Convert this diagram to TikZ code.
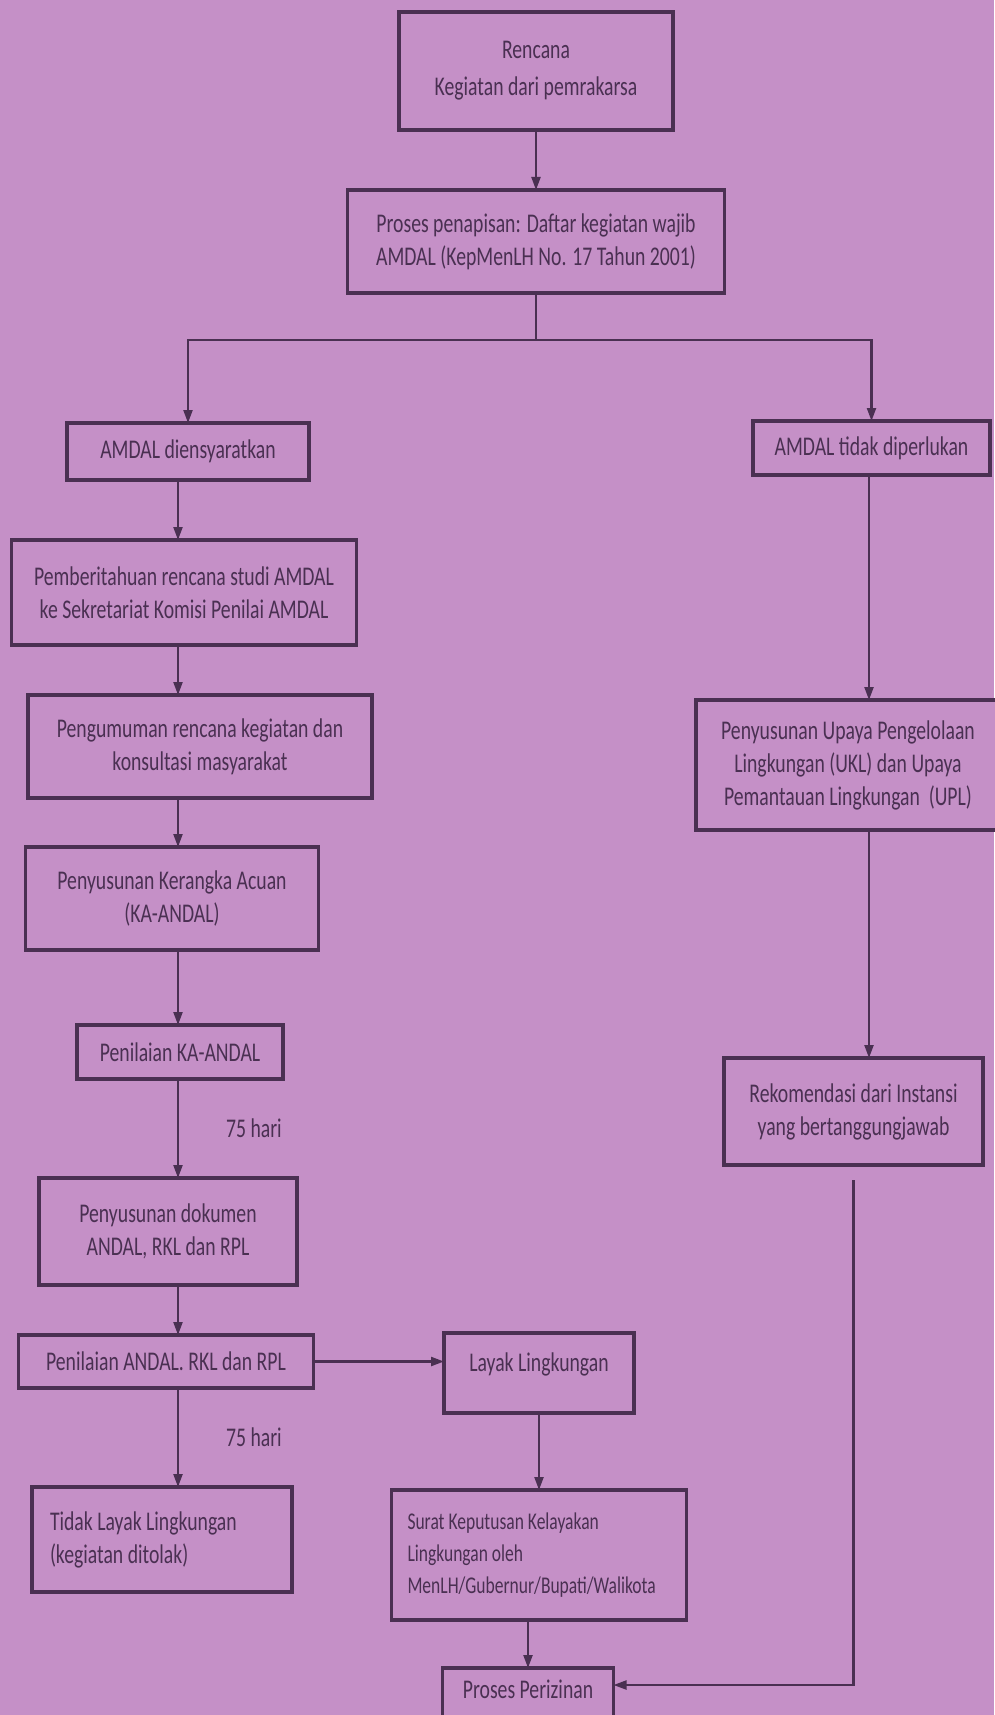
\documentclass[tikz,border=0pt]{standalone}
\usepackage{fontspec}
\setmainfont{Carlito}[FakeStretch=0.73]
\usetikzlibrary{arrows.meta,positioning}
\definecolor{sheet}{RGB}{197,144,199}
\definecolor{ink}{RGB}{74,48,82}
\tikzset{
stage/.style={draw=ink,line width=3.2pt,fill=sheet,text=ink,align=center,inner sep=0pt,outer sep=0pt,font=\fontsize{27}{33}\selectfont},
note/.style={text=ink,inner sep=0pt,font=\fontsize{27}{33}\selectfont},
flow/.style={-{Stealth[length=13pt,width=9pt,inset=0pt]},draw=ink,line width=2.2pt}
}
\begin{document}
\begin{tikzpicture}[x=1pt,y=-1pt]
\useasboundingbox(0,0)rectangle(994,1715);
\fill[sheet](0,0)rectangle(994,1715);
\coordinate(lcol)at(178,0);\coordinate(rcol)at(869,0);
\node[stage,minimum width=274pt,minimum height=118pt](rencana)at(536,71){Rencana\\[4pt]Kegiatan dari pemrakarsa};
\node[stage,minimum width=377pt,minimum height=103pt,below=60pt of rencana](penapisan){Proses penapisan: Daftar kegiatan wajib\\AMDAL (KepMenLH No. 17 Tahun 2001)};
\node[stage,minimum width=242pt,minimum height=57pt](wajib)at(188,451.5){AMDAL diensyaratkan};
\node[stage,minimum width=237pt,minimum height=54pt](bebas)at(871.5,448){AMDAL tidak diperlukan};
\node[stage,minimum width=345pt,minimum height=105pt,below=60pt of wajib,xshift=-4pt](pemberitahuan){Pemberitahuan rencana studi AMDAL\\ke Sekretariat Komisi Penilai AMDAL};
\node[stage,minimum width=344pt,minimum height=103pt,below=50pt of pemberitahuan,xshift=16pt](pengumuman){Pengumuman rencana kegiatan dan\\konsultasi masyarakat};
\node[stage,minimum width=293pt,minimum height=103pt,below=49pt of pengumuman,xshift=-28pt](kerangka){Penyusunan Kerangka Acuan\\(KA-ANDAL)};
\node[stage,minimum width=206pt,minimum height=54pt,below=75pt of kerangka,xshift=8pt](nilaika){Penilaian KA-ANDAL};
\node[stage,minimum width=258pt,minimum height=107pt,below=99pt of nilaika,xshift=-12pt](dokumen){Penyusunan dokumen\\ANDAL, RKL dan RPL};
\node[stage,minimum width=295pt,minimum height=53pt,below=50pt of dokumen,xshift=-2pt](nilaiandal){Penilaian ANDAL. RKL dan RPL};
\node[stage,minimum width=260pt,minimum height=105pt,text width=224pt,align=flush left,below=99pt of nilaiandal,xshift=-4pt](ditolak){Tidak Layak Lingkungan\\(kegiatan ditolak)};
\node[stage,minimum width=190pt,minimum height=80pt,text height=20pt,text depth=24pt](layak)at(539,1373){Layak Lingkungan};
\node[stage,minimum width=295pt,minimum height=130pt,text width=263pt,align=flush left,font=\fontsize{24}{32}\selectfont,below=77pt of layak](sk){Surat Keputusan Kelayakan\\Lingkungan oleh\\MenLH/Gubernur/Bupati/Walikota};
\node[stage,minimum width=171pt,minimum height=90pt,text height=20pt,text depth=50pt,below=48pt of sk,xshift=-11pt](izin){Proses Perizinan};
\node[stage,minimum width=304pt,minimum height=130pt](ukl)at(848,765){Penyusunan Upaya Pengelolaan\\Lingkungan (UKL) dan Upaya\\Pemantauan Lingkungan~ (UPL)};
\node[stage,minimum width=259pt,minimum height=107pt](rekomendasi)at(853.5,1111.5){Rekomendasi dari Instansi\\yang bertanggungjawab};
\coordinate(masuk)at([yshift=-17pt]izin.north east);
\draw[flow](rencana)--(penapisan);
\draw[flow](penapisan.south)--++(0,47)-|(wajib.north);\draw[flow](penapisan.south)--++(0,47)-|(bebas.north);
\draw[flow](wajib.south -| lcol)--(pemberitahuan.north -| lcol);\draw[flow](pemberitahuan.south -| lcol)--(pengumuman.north -| lcol);
\draw[flow](pengumuman.south -| lcol)--(kerangka.north -| lcol);\draw[flow](kerangka.south -| lcol)--(nilaika.north -| lcol);
\draw[flow](nilaika.south -| lcol)--node[note,right=47pt]{75 hari}(dokumen.north -| lcol);
\draw[flow](dokumen.south -| lcol)--(nilaiandal.north -| lcol);
\draw[flow](nilaiandal.south -| lcol)--node[note,right=47pt]{75 hari}(ditolak.north -| lcol);
\draw[flow](nilaiandal.east)--(nilaiandal.east -| layak.west);
\draw[flow](layak)--(sk);\draw[flow](sk.south -| izin.north)--(izin.north);
\draw[flow](bebas.south -| rcol)--(ukl.north -| rcol);\draw[flow](ukl.south -| rcol)--(rekomendasi.north -| rcol);
\draw[flow,shorten <=15pt](rekomendasi.south)--(rekomendasi.south |- masuk)--(masuk);
\end{tikzpicture}
\end{document}
